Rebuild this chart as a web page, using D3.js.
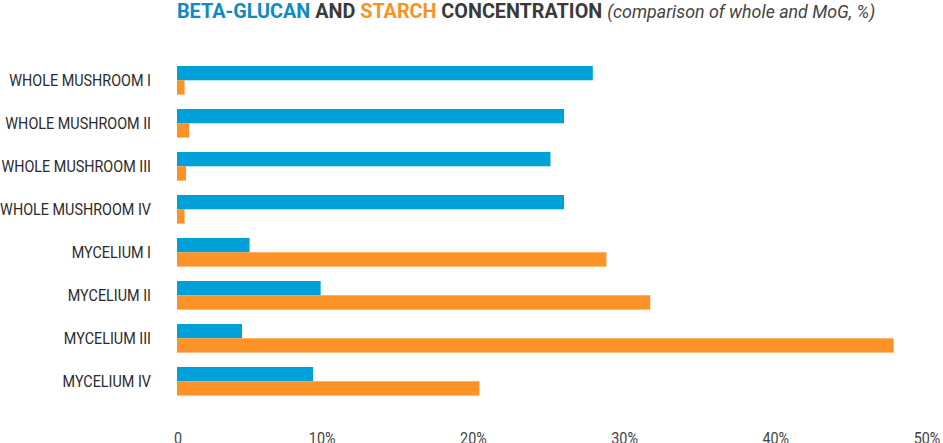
<!DOCTYPE html>
<html>
<head>
<meta charset="utf-8">
<script src="https://cdn.jsdelivr.net/npm/d3@7"></script>
<style>
  html, body { margin: 0; padding: 0; background: #fff; }
  svg { display: block; font-family: Roboto, "Noto Sans", sans-serif; }
</style>
</head>
<body>
<svg id="chart"></svg>
<script>
// Chart size matches the browser window.
const WIDTH = 943;
const HEIGHT = 443;

const categories = [
  'WHOLE MUSHROOM I', 'WHOLE MUSHROOM II', 'WHOLE MUSHROOM III', 'WHOLE MUSHROOM IV',
  'MYCELIUM I', 'MYCELIUM II', 'MYCELIUM III', 'MYCELIUM IV'
];
const betaGlucan = [27.5, 25.6, 24.7, 25.6, 4.8, 9.5, 4.3, 9.0];
const starch = [0.5, 0.8, 0.6, 0.5, 28.4, 31.3, 47.4, 20.0];
const tickValues = [0, 10, 20, 30, 40, 50];

const BLUE = '#00a1d9';
const ORANGE = '#fd9227';

const svg = d3.select('#chart')
  .attr('width', WIDTH)
  .attr('height', HEIGHT);

const x = d3.scaleLinear().domain([0, 50]).range([177, 933]);

const y = d3.scaleBand()
  .domain(categories)
  .range([51.6, 410])
  .padding(0.335);

const series = d3.scaleBand()
  .domain(['beta', 'starch'])
  .range([0, y.bandwidth()]);

const rows = categories.map((c, i) => ({cat: c, beta: betaGlucan[i], starch: starch[i]}));

// bars
const g = svg.append('g');
const row = g.selectAll('g.row')
  .data(rows)
  .enter()
  .append('g')
  .attr('class', 'row')
  .attr('transform', d => `translate(0,${y(d.cat)})`);

row.append('rect')
  .attr('x', x(0))
  .attr('y', series('beta'))
  .attr('width', d => x(d.beta) - x(0))
  .attr('height', series.bandwidth())
  .attr('fill', BLUE);

row.append('rect')
  .attr('x', x(0))
  .attr('y', series('starch'))
  .attr('width', d => x(d.starch) - x(0))
  .attr('height', series.bandwidth())
  .attr('fill', ORANGE);

// category labels, squeezed a bit to look condensed
const labels = svg.append('g')
  .selectAll('text')
  .data(categories)
  .enter()
  .append('text')
  .attr('text-anchor', 'end')
  .attr('font-size', 16)
  .attr('fill', '#2b2b2b')
  .text(d => d);

let widest = d3.max(labels.nodes(), n => n.getComputedTextLength());
let labelScale = 151 / widest;
labels.attr('transform', d => `translate(151,${y(d) + y.bandwidth() / 2 + 6}) scale(${labelScale},1)`);

// x axis labels (no axis line, just text)
const ticks = svg.append('g')
  .selectAll('text')
  .data(tickValues)
  .enter()
  .append('text')
  .attr('text-anchor', 'middle')
  .attr('font-size', 16)
  .attr('fill', '#444')
  .text(d => d === 0 ? '0' : d + '%')
  .attr('transform', d => `translate(${d === 0 ? x(d) + 1 : x(d) - 6},443.5) scale(${labelScale},1)`);

// title
const title = svg.append('text')
  .attr('font-size', 20)
  .attr('font-weight', 700)
  .attr('fill', '#3a3a3a');
title.append('tspan').attr('fill', '#0f8bbf').text('BETA-GLUCAN');
title.append('tspan').text(' AND ');
title.append('tspan').attr('fill', '#f7931e').text('STARCH');
title.append('tspan').text(' CONCENTRATION ');
title.append('tspan')
  .attr('font-weight', 400)
  .attr('font-style', 'italic')
  .attr('font-size', 18)
  .attr('fill', '#444')
  .text('(comparison of whole and MoG, %)');

let titleWidth = title.node().getComputedTextLength();
title.attr('transform', `translate(177,18) scale(${699 / titleWidth},1)`);
</script>
</body>
</html>
